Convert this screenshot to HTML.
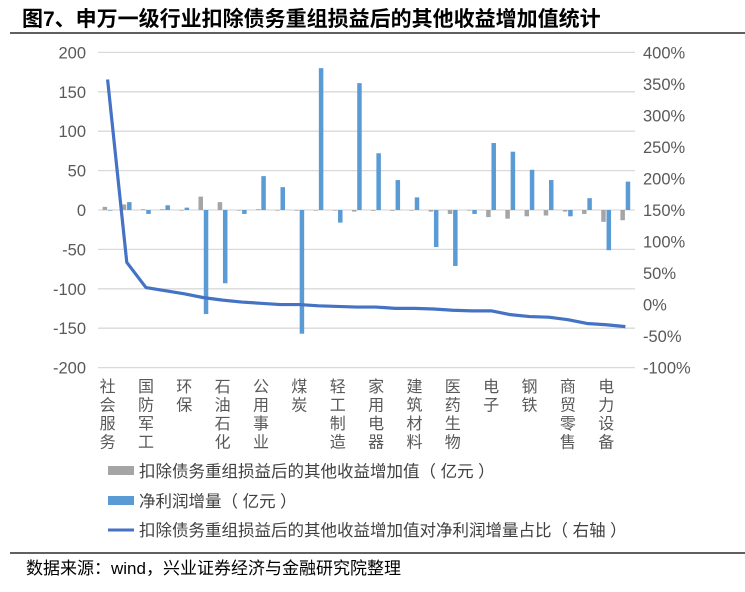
<!DOCTYPE html>
<html><head><meta charset="utf-8">
<style>
body{margin:0;background:#fff;width:745px;height:587px;overflow:hidden;font-family:"Liberation Sans","Noto Sans CJK SC",sans-serif;}
svg text{font-family:"Liberation Sans","Noto Sans CJK SC",sans-serif;}
</style></head>
<body>
<svg id="chart" width="745" height="587">
<text x="22" y="26" font-size="21" font-weight="bold" fill="#000">图7、申万一级行业扣除债务重组损益后的其他收益增加值统计</text>
<line x1="10" y1="33" x2="745" y2="33" stroke="#000" stroke-width="1.2"/>
<line x1="10" y1="553" x2="745" y2="553" stroke="#000" stroke-width="1.2"/>
<text x="26" y="574" font-size="17" fill="#000">数据来源：wind，兴业证券经济与金融研究院整理</text>
<g id="grid"></g><g id="bars"></g><g id="line"></g><g id="axes"></g>
<g>
<rect x="108" y="466" width="26" height="9" fill="#a5a5a5"/>
<text x="139" y="477" font-size="16.5" fill="#404040">扣除债务重组损益后的其他收益增加值（ 亿元 ）</text>
<rect x="108" y="496" width="26" height="9" fill="#5b9bd5"/>
<text x="139" y="507" font-size="16.5" fill="#404040">净利润增量（ 亿元 ）</text>
<line x1="108" y1="530" x2="134" y2="530" stroke="#4472c4" stroke-width="3"/>
<text x="139" y="536" font-size="16.5" fill="#404040">扣除债务重组损益后的其他收益增加值对净利润增量占比（ 右轴 ）</text>
</g>
</svg>
<script>
const categories=["社会服务","计算机","国防军工","传媒","环保","美容护理","石油石化","通信","公用事业","农林牧渔","煤炭","汽车","轻工制造","机械设备","家用电器","基础化工","建筑材料","纺织服饰","医药生物","综合","电子","非银金融","钢铁","有色金属","商贸零售","食品饮料","电力设备","交通运输"];
const otherIncome=[4,7,1,1,0,17,10,0,1,0,0,0,0,-2,-1,-1,0,-2,-5,0,-9,-11,-8,-7,-2,-5,-15,-13];
const netProfit=[0,10,-5,6,3,-132,-93,-5,43,29,-157,180,-16,161,72,38,16,-47,-71,-5,85,74,51,38,-8,15,-51,36];
const ratio=[357,67,27,22,17,11,7,4,2,0,0,-2,-3,-4,-4,-6,-6,-7,-9,-10,-10,-16,-19,-20,-24,-30,-32,-35];
const leftTicks=[200,150,100,50,0,-50,-100,-150,-200];
const rightTicks=["400%","350%","300%","250%","200%","150%","100%","50%","0%","-50%","-100%"];
const NS="http://www.w3.org/2000/svg";
const x0=98,x1=635,yTop=52.4,yBot=367.6;
const step=(x1-x0)/categories.length;
function xc(i){return x0+step*(i+0.5);}
function yL(v){return yTop+(200-v)/400*(yBot-yTop);}
function yR(p){return yTop+(400-p)/500*(yBot-yTop);}
function mk(tag,attrs,parent){const e=document.createElementNS(NS,tag);for(const k in attrs)e.setAttribute(k,attrs[k]);document.getElementById(parent).appendChild(e);return e;}
leftTicks.forEach(v=>{
  const g=mk("line",{x1:x0,x2:x1,y1:yL(v),y2:yL(v),stroke:"#d9d9d9","stroke-width":1.3},"grid");
  
  
  const t=mk("text",{x:86,y:yL(v)+6,"text-anchor":"end","font-size":16.5,fill:"#595959"},"axes");
  t.textContent=v;
  
  
});
rightTicks.forEach((s,i)=>{
  const p=400-i*50;
  const t=mk("text",{x:643,y:yR(p)+6,"font-size":16.5,fill:"#595959"},"axes");
  t.textContent=s;
  
  
});
categories.forEach((c,i)=>{
  const go=otherIncome[i],np=netProfit[i];
  const r1=mk("rect",{x:xc(i)-5,width:4.5,y:Math.min(yL(0),yL(go)),height:Math.max(0.6,Math.abs(yL(go)-yL(0))),fill:"#a5a5a5"},"bars");
  
  
  const r2=mk("rect",{x:xc(i)+0.3,width:4.5,y:Math.min(yL(0),yL(np)),height:Math.max(0.6,Math.abs(yL(np)-yL(0))),fill:"#5b9bd5"},"bars");
  
  
  if(i%2===0){
    const t=mk("text",{"font-size":16,fill:"#595959","text-anchor":"middle"},"axes");
    
    
    [...c].forEach((ch,k)=>{const s=document.createElementNS(NS,"tspan");s.setAttribute("x",xc(i));s.setAttribute("y",392+k*18.5);s.textContent=ch;t.appendChild(s);});
  }
});
const pl=mk("polyline",{points:ratio.map((p,i)=>xc(i)+","+yR(p)).join(" "),fill:"none",stroke:"#4472c4","stroke-width":3.2,"stroke-linejoin":"round"},"line");


</script>
</body></html>
